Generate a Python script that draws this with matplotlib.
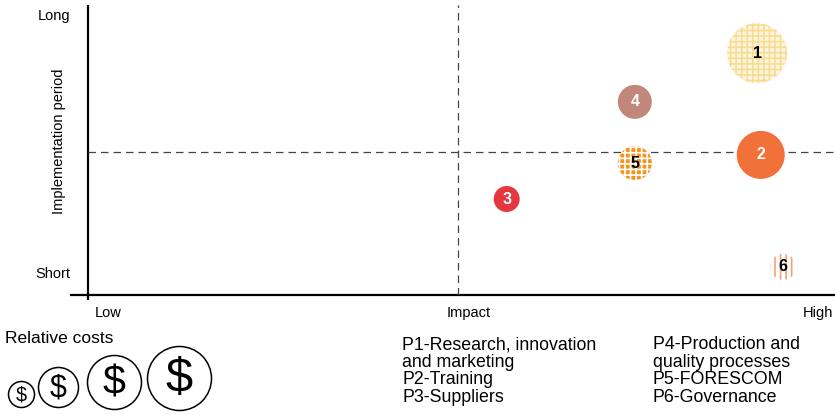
import matplotlib.pyplot as plt

plt.rcParams['font.family'] = ['Liberation Sans', 'DejaVu Sans']

# projects: impact (x), implementation period (y), relative cost level (1-4)
projects = ['1', '2', '3', '4', '5', '6']
impact = [8.98, 9.03, 5.62, 7.34, 7.34, 9.33]
period = [8.34, 4.83, 3.31, 6.66, 4.55, 0.97]
cost = [4, 3, 1, 2, 2, 1]

x_labels = ['Low', 'Impact', 'High']
y_labels = ['Short', 'Long']
cost_levels = [1, 2, 3, 4]
legend_left = ['P1-Research, innovation\nand marketing', 'P2-Training', 'P3-Suppliers']
legend_right = ['P4-Production and\nquality processes', 'P5-FORESCOM', 'P6-Governance']

# bubble radius in pixels per cost level
radius = {1: 13, 2: 17, 3: 24, 4: 30}
legend_radius = {1: 13, 2: 20, 3: 27, 4: 32}

# face, hatch colour, hatch pattern, text colour
styles = [
    ('#FEF6DE', '#F9DC94', '+++', 'black'),
    ('#F2703A', None, None, 'white'),
    ('#E5373F', None, None, 'white'),
    ('#C0877A', None, None, 'white'),
    ('#F7941F', 'white', '+++', 'black'),
    ('white', '#F5A27A', '|||', 'black'),
]


def px_to_s(r):
    return (2 * r * 0.72) ** 2


fig = plt.figure(figsize=(8.35, 4.15), dpi=100)
ax = fig.add_axes([88 / 835, 120 / 415, 745 / 835, 290 / 415])
ax.set_xlim(0, 10)
ax.set_ylim(0, 10)
for s in ax.spines.values():
    s.set_visible(False)

# axes lines
ax.plot([-0.24, 10.1], [0, 0], color='black', lw=1.6, clip_on=False, solid_capstyle='butt')
ax.plot([0, 0], [-0.17, 10], color='black', lw=1.6, clip_on=False, solid_capstyle='butt')
ax.plot([4.96, 4.96], [0, 10], color='#444444', lw=0.9, ls=(0, (6, 4)))
ax.plot([0, 10.1], [4.93, 4.93], color='#444444', lw=0.9, ls=(0, (6, 4)), clip_on=False)

for i, name in enumerate(projects):
    face, hcol, hatch, tcol = styles[i]
    rc = {'hatch.linewidth': 1.2}
    if hcol:
        rc['hatch.color'] = hcol
    with plt.rc_context(rc):
        ax.scatter([impact[i]], [period[i]], s=px_to_s(radius[cost[i]]), color=face,
                   edgecolors='none', hatch=hatch, zorder=3)
    ax.text(impact[i], period[i], name, ha='center', va='center', fontsize=11.5,
            fontweight='bold', color=tcol, zorder=4)

ax.set_xticks([0.27, 5.11, 9.8])
ax.set_xticklabels(x_labels, fontsize=10.5)
ax.set_yticks([0.79, 9.66])
ax.set_yticklabels(y_labels, fontsize=10.5)
ax.tick_params(length=0, pad=8)
ax.tick_params(axis='y', pad=13)
ax.set_ylabel('Implementation period', fontsize=10.5, labelpad=6)
ax.yaxis.set_label_coords(-0.029, 0.53)

# relative costs legend
fig.text(5 / 835, 1 - 338 / 415, 'Relative costs', fontsize=12.5, va='center', ha='left')
lax = fig.add_axes([0, 0, 1, 1], facecolor='none')
lax.set_xlim(0, 835)
lax.set_ylim(415, 0)
lax.axis('off')
cx = [21, 58, 114, 179]
cy = [394, 387, 382, 378]
for k, lvl in enumerate(cost_levels):
    r = legend_radius[lvl]
    lax.scatter([cx[k]], [cy[k]], s=px_to_s(r), facecolors='white', edgecolors='black', lw=1.1)
    lax.text(cx[k], cy[k] + 1, '$', ha='center', va='center', fontsize=r * 1.1)

fig.text(402 / 835, 1 - 336 / 415, '\n'.join(legend_left), fontsize=12.8, va='top', ha='left',
         linespacing=1.05)
fig.text(653 / 835, 1 - 336 / 415, '\n'.join(legend_right), fontsize=12.8, va='top', ha='left',
         linespacing=1.05)

fig.savefig('out.png', dpi=100)
